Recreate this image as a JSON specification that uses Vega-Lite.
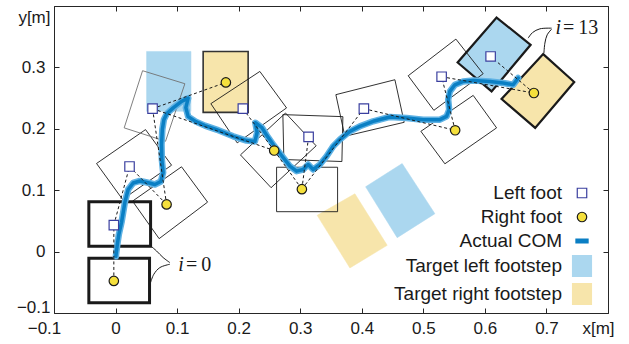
{
  "$schema": "https://vega.github.io/schema/vega-lite/v6.json",
  "width": 554,
  "height": 307,
  "autosize": {"type": "none"},
  "padding": {"left": 54, "top": 6, "right": 21, "bottom": 31},
  "background": "white",
  "config": {
    "view": {"stroke": "#262626", "strokeWidth": 1},
    "font": "Liberation Sans",
    "axis": {"grid": false, "domain": false, "title": null, "tickColor": "#262626", "tickWidth": 1, "tickSize": -5, "labelFont": "Liberation Sans", "labelFontSize": 17, "labelColor": "#1a1a1a"}
  },
  "datasets": {
    "polys": [
      {"id":"L1","g":"init","k":0,"x":-0.0434,"y":0.0812},{"id":"L1","g":"init","k":1,"x":0.0569,"y":0.0812},{"id":"L1","g":"init","k":2,"x":0.0569,"y":0.0086},{"id":"L1","g":"init","k":3,"x":-0.0434,"y":0.0086},
      {"id":"R1","g":"init","k":0,"x":-0.0434,"y":-0.0109},{"id":"R1","g":"init","k":1,"x":0.0552,"y":-0.0109},{"id":"R1","g":"init","k":2,"x":0.0552,"y":-0.0835},{"id":"R1","g":"init","k":3,"x":-0.0434,"y":-0.0835},
      {"id":"L2","g":"step","k":0,"x":-0.0309,"y":0.1435},{"id":"L2","g":"step","k":1,"x":0.0487,"y":0.1987},{"id":"L2","g":"step","k":2,"x":0.0910,"y":0.1407},{"id":"L2","g":"step","k":3,"x":0.0114,"y":0.0850},
      {"id":"R2","g":"step","k":0,"x":0.0276,"y":0.0822},{"id":"R2","g":"step","k":1,"x":0.1072,"y":0.1381},{"id":"R2","g":"step","k":2,"x":0.1495,"y":0.0806},{"id":"R2","g":"step","k":3,"x":0.0708,"y":0.0211},
      {"id":"L3","g":"stepgrey","k":0,"x":0.0439,"y":0.2946},{"id":"L3","g":"stepgrey","k":1,"x":0.1126,"y":0.2734},{"id":"L3","g":"stepgrey","k":2,"x":0.0812,"y":0.1797},{"id":"L3","g":"stepgrey","k":3,"x":0.0140,"y":0.2015},
      {"id":"L4","g":"step","k":0,"x":0.1548,"y":0.2409},{"id":"L4","g":"step","k":1,"x":0.2344,"y":0.2934},{"id":"L4","g":"step","k":2,"x":0.2778,"y":0.2340},{"id":"L4","g":"step","k":3,"x":0.1976,"y":0.1771},
      {"id":"R4","g":"step","k":0,"x":0.2029,"y":0.1575},{"id":"R4","g":"step","k":1,"x":0.2761,"y":0.2257},{"id":"R4","g":"step","k":2,"x":0.3259,"y":0.1723},{"id":"R4","g":"step","k":3,"x":0.2527,"y":0.1041},
      {"id":"L5","g":"step","k":0,"x":0.2718,"y":0.2231},{"id":"L5","g":"step","k":1,"x":0.3693,"y":0.2198},{"id":"L5","g":"step","k":2,"x":0.3677,"y":0.1467},{"id":"L5","g":"step","k":3,"x":0.2734,"y":0.1500},
      {"id":"R5","g":"step","k":0,"x":0.2616,"y":0.1374},{"id":"R5","g":"step","k":1,"x":0.3607,"y":0.1374},{"id":"R5","g":"step","k":2,"x":0.3607,"y":0.0650},{"id":"R5","g":"step","k":3,"x":0.2616,"y":0.0650},
      {"id":"L6","g":"step","k":0,"x":0.3579,"y":0.2556},{"id":"L6","g":"step","k":1,"x":0.4538,"y":0.2799},{"id":"L6","g":"step","k":2,"x":0.4689,"y":0.2106},{"id":"L6","g":"step","k":3,"x":0.3725,"y":0.1878},
      {"id":"R6","g":"step","k":0,"x":0.4960,"y":0.1959},{"id":"R6","g":"step","k":1,"x":0.5810,"y":0.2544},{"id":"R6","g":"step","k":2,"x":0.6190,"y":0.2015},{"id":"R6","g":"step","k":3,"x":0.5350,"y":0.1430},
      {"id":"L7","g":"step","k":0,"x":0.4754,"y":0.2864},{"id":"L7","g":"step","k":1,"x":0.5529,"y":0.3461},{"id":"L7","g":"step","k":2,"x":0.5972,"y":0.2897},{"id":"L7","g":"step","k":3,"x":0.5171,"y":0.2301},
      {"id":"R3","g":"actR","k":0,"x":0.1423,"y":0.3260},{"id":"R3","g":"actR","k":1,"x":0.2154,"y":0.3260},{"id":"R3","g":"actR","k":2,"x":0.2154,"y":0.2268},{"id":"R3","g":"actR","k":3,"x":0.1423,"y":0.2268},
      {"id":"R7","g":"finR","k":0,"x":0.6947,"y":0.3217},{"id":"R7","g":"finR","k":1,"x":0.7451,"y":0.2762},{"id":"R7","g":"finR","k":2,"x":0.6817,"y":0.2015},{"id":"R7","g":"finR","k":3,"x":0.6271,"y":0.2486},
      {"id":"L8","g":"finL","k":0,"x":0.6190,"y":0.3812},{"id":"L8","g":"finL","k":1,"x":0.6743,"y":0.3368},{"id":"L8","g":"finL","k":2,"x":0.6109,"y":0.2609},{"id":"L8","g":"finL","k":3,"x":0.5557,"y":0.3080},
      {"id":"TL3","g":"tgtL","k":0,"x":0.0504,"y":0.3260},{"id":"TL3","g":"tgtL","k":1,"x":0.1225,"y":0.3260},{"id":"TL3","g":"tgtL","k":2,"x":0.1225,"y":0.2284},{"id":"TL3","g":"tgtL","k":3,"x":0.0504,"y":0.2284},
      {"id":"TB","g":"tgtL","k":0,"x":0.4062,"y":0.1056},{"id":"TB","g":"tgtL","k":1,"x":0.4656,"y":0.1435},{"id":"TB","g":"tgtL","k":2,"x":0.5188,"y":0.0617},{"id":"TB","g":"tgtL","k":3,"x":0.4575,"y":0.0227},
      {"id":"TY","g":"tgtR","k":0,"x":0.3275,"y":0.0590},{"id":"TY","g":"tgtR","k":1,"x":0.3888,"y":0.0942},{"id":"TY","g":"tgtR","k":2,"x":0.4413,"y":0.0102},{"id":"TY","g":"tgtR","k":3,"x":0.3807,"y":-0.0266}
    ],
    "com": [
      {"k":0,"x":0.0005,"y":-0.0076},{"k":1,"x":0.0029,"y":0.0119},{"k":2,"x":0.0054,"y":0.0281},{"k":3,"x":0.0097,"y":0.0476},
      {"k":4,"x":0.0151,"y":0.0801},{"k":5,"x":0.0205,"y":0.1012},{"k":6,"x":0.0286,"y":0.1118},{"k":7,"x":0.0395,"y":0.1150},
      {"k":8,"x":0.0530,"y":0.1121},{"k":9,"x":0.0639,"y":0.1093},{"k":10,"x":0.0736,"y":0.1142},{"k":11,"x":0.0773,"y":0.1288},
      {"k":12,"x":0.0752,"y":0.1500},{"k":13,"x":0.0747,"y":0.1743},{"k":14,"x":0.0760,"y":0.1987},{"k":15,"x":0.0785,"y":0.2149},
      {"k":16,"x":0.0833,"y":0.2247},{"k":17,"x":0.0936,"y":0.2340},{"k":18,"x":0.1072,"y":0.2447},{"k":19,"x":0.1180,"y":0.2499},
      {"k":20,"x":0.1142,"y":0.2344},{"k":21,"x":0.1180,"y":0.2198},{"k":22,"x":0.1305,"y":0.2117},{"k":23,"x":0.1451,"y":0.2052},
      {"k":24,"x":0.1641,"y":0.1987},{"k":25,"x":0.1911,"y":0.1878},{"k":26,"x":0.2128,"y":0.1808},{"k":27,"x":0.2263,"y":0.1792},
      {"k":28,"x":0.2300,"y":0.1940},{"k":29,"x":0.2270,"y":0.2100},{"k":30,"x":0.2377,"y":0.2020},{"k":31,"x":0.2458,"y":0.1890},
      {"k":32,"x":0.2572,"y":0.1727},{"k":33,"x":0.2697,"y":0.1565},{"k":34,"x":0.2832,"y":0.1391},{"k":35,"x":0.2941,"y":0.1310},
      {"k":36,"x":0.3048,"y":0.1337},{"k":37,"x":0.3129,"y":0.1418},{"k":38,"x":0.3210,"y":0.1337},{"k":39,"x":0.3319,"y":0.1418},
      {"k":40,"x":0.3428,"y":0.1553},{"k":41,"x":0.3535,"y":0.1716},{"k":42,"x":0.3644,"y":0.1825},{"k":43,"x":0.3807,"y":0.1959},
      {"k":44,"x":0.3969,"y":0.2041},{"k":45,"x":0.4185,"y":0.2122},{"k":46,"x":0.4457,"y":0.2193},{"k":47,"x":0.4728,"y":0.2177},
      {"k":48,"x":0.4998,"y":0.2149},{"k":49,"x":0.5269,"y":0.2149},{"k":50,"x":0.5378,"y":0.2203},{"k":51,"x":0.5420,"y":0.2312},
      {"k":52,"x":0.5404,"y":0.2474},{"k":53,"x":0.5431,"y":0.2609},{"k":54,"x":0.5513,"y":0.2717},{"k":55,"x":0.5647,"y":0.2772},
      {"k":56,"x":0.5810,"y":0.2788},{"k":57,"x":0.6081,"y":0.2772},{"k":58,"x":0.6297,"y":0.2746},{"k":59,"x":0.6460,"y":0.2718},
      {"k":60,"x":0.6541,"y":0.2827}
    ],
    "feet": [
      {"series":"Left foot","x":-0.0028,"y":0.0432},{"series":"Left foot","x":0.0227,"y":0.1386},{"series":"Left foot","x":0.0601,"y":0.2328},{"series":"Left foot","x":0.2068,"y":0.2328},
      {"series":"Left foot","x":0.3136,"y":0.1868},{"series":"Left foot","x":0.4034,"y":0.2328},{"series":"Left foot","x":0.5297,"y":0.2848},{"series":"Left foot","x":0.6093,"y":0.3178},
      {"series":"Right foot","x":-0.0028,"y":-0.0478},{"series":"Right foot","x":0.0829,"y":0.0768},{"series":"Right foot","x":0.1792,"y":0.2755},{"series":"Right foot","x":0.2577,"y":0.1646},
      {"series":"Right foot","x":0.3027,"y":0.1017},{"series":"Right foot","x":0.5517,"y":0.1976},{"series":"Right foot","x":0.6796,"y":0.2583}
    ],
    "links": [
      {"x":-0.0028,"y":-0.0478,"x2":-0.0028,"y2":0.0432},{"x":-0.0028,"y":0.0432,"x2":0.0227,"y2":0.1386},{"x":0.0227,"y":0.1386,"x2":0.0829,"y2":0.0768},
      {"x":0.0829,"y":0.0768,"x2":0.0601,"y2":0.2328},{"x":0.0601,"y":0.2328,"x2":0.1792,"y2":0.2755},{"x":0.0601,"y":0.2328,"x2":0.2577,"y2":0.1646},
      {"x":0.2068,"y":0.2328,"x2":0.2577,"y2":0.1646},{"x":0.2577,"y":0.1646,"x2":0.3027,"y2":0.1017},{"x":0.3027,"y":0.1017,"x2":0.3136,"y2":0.1868},
      {"x":0.3027,"y":0.1017,"x2":0.4034,"y2":0.2328},{"x":0.4034,"y":0.2328,"x2":0.5517,"y2":0.1976},{"x":0.5517,"y":0.1976,"x2":0.5297,"y2":0.2848},
      {"x":0.5297,"y":0.2848,"x2":0.6796,"y2":0.2583},{"x":0.6796,"y":0.2583,"x2":0.6093,"y2":0.3178}
    ],
    "leaders": [
      {"id":"a0","k":0,"x":0.0882,"y":-0.0179},{"id":"a0","k":1,"x":0.0773,"y":-0.0097},{"id":"a0","k":2,"x":0.0666,"y":0.0010},{"id":"a0","k":3,"x":0.0585,"y":0.0081},
      {"id":"b0","k":0,"x":0.0882,"y":-0.0206},{"id":"b0","k":1,"x":0.0720,"y":-0.0260},{"id":"b0","k":2,"x":0.0622,"y":-0.0369},{"id":"b0","k":3,"x":0.0569,"y":-0.0504},
      {"id":"a13","k":0,"x":0.7084,"y":0.3639},{"id":"a13","k":1,"x":0.6894,"y":0.3628},{"id":"a13","k":2,"x":0.6775,"y":0.3568},{"id":"a13","k":3,"x":0.6703,"y":0.3477},
      {"id":"b13","k":0,"x":0.7084,"y":0.3623},{"id":"b13","k":1,"x":0.7012,"y":0.3531},{"id":"b13","k":2,"x":0.6975,"y":0.3396},{"id":"b13","k":3,"x":0.6959,"y":0.3233}
    ],
    "ann": [
      {"x":0.1110,"y":-0.0315,"t":"=\u20090"},
      {"x":0.7236,"y":0.3542,"t":"=\u200913"}
    ]
  },
  "encoding": {
    "x": {"field":"x","type":"quantitative","scale":{"domain":[-0.1,0.8],"nice":false,"zero":false},"axis":null},
    "y": {"field":"y","type":"quantitative","scale":{"domain":[-0.1,0.4],"nice":false,"zero":false},"axis":null}
  },
  "resolve": {"axis": {"x":"independent","y":"independent"}},
  "layer": [
    {
      "data": {"name":"polys"},
      "transform": [{"filter":"datum.g == 'tgtL'"}],
      "mark": {"type":"line","interpolate":"linear-closed","fill":"#abd7ef","stroke":"#abd7ef","strokeWidth":0.5},
      "encoding": {
        "x": {"field":"x","type":"quantitative","scale":{"domain":[-0.1,0.8],"nice":false,"zero":false},
          "axis":{"orient":"bottom","values":[-0.1,0,0.1,0.2,0.3,0.4,0.5,0.6,0.7,0.8],"labelFlush":false,
            "labelExpr":"datum.value > 0.75 ? 'x[m]' : (abs(datum.value) < 0.001 ? '0' : format(datum.value, '.1f'))",
            "labelPadding":12,
            "labelOffset":{"condition":{"test":"datum.value < -0.05 || datum.value > 0.75","value":-10},"value":0}}},
        "y": {"field":"y","type":"quantitative","scale":{"domain":[-0.1,0.4],"nice":false,"zero":false},
          "axis":{"orient":"left","values":[-0.1,0,0.1,0.2,0.3,0.4],
            "labelExpr":"datum.value > 0.35 ? 'y[m]' : (abs(datum.value) < 0.001 ? '0' : format(datum.value, '.1f'))",
            "labelPadding":{"condition":{"test":"datum.value < -0.05 || datum.value > 0.35","value":9},"value":14},
            "labelOffset":{"condition":[{"test":"datum.value < -0.05","value":-6},{"test":"datum.value > 0.35","value":11}],"value":0}}},
        "detail": {"field":"id"},
        "order": {"field":"k","type":"quantitative"}
      }
    },
    {
      "data": {"name":"polys"},
      "transform": [{"filter":"datum.g == 'tgtR'"}],
      "mark": {"type":"line","interpolate":"linear-closed","fill":"#f7e5ab","stroke":"#f7e5ab","strokeWidth":0.5},
      "encoding": {"detail": {"field":"id"},"order": {"field":"k","type":"quantitative"}}
    },
    {
      "data": {"name":"polys"},
      "transform": [{"filter":"datum.g == 'actR'"}],
      "mark": {"type":"line","interpolate":"linear-closed","fill":"#f7e5ab","stroke":"#333333","strokeWidth":1.6},
      "encoding": {"detail": {"field":"id"},"order": {"field":"k","type":"quantitative"}}
    },
    {
      "data": {"name":"polys"},
      "transform": [{"filter":"datum.g == 'finL'"}],
      "mark": {"type":"line","interpolate":"linear-closed","fill":"#abd7ef","stroke":"#1a1a1a","strokeWidth":2.2},
      "encoding": {"detail": {"field":"id"},"order": {"field":"k","type":"quantitative"}}
    },
    {
      "data": {"name":"polys"},
      "transform": [{"filter":"datum.g == 'finR'"}],
      "mark": {"type":"line","interpolate":"linear-closed","fill":"#f7e5ab","stroke":"#1a1a1a","strokeWidth":2.2},
      "encoding": {"detail": {"field":"id"},"order": {"field":"k","type":"quantitative"}}
    },
    {
      "data": {"name":"polys"},
      "transform": [{"filter":"datum.g == 'step'"}],
      "mark": {"type":"line","interpolate":"linear-closed","stroke":"#1a1a1a","strokeWidth":0.9},
      "encoding": {"detail": {"field":"id"},"order": {"field":"k","type":"quantitative"}}
    },
    {
      "data": {"name":"polys"},
      "transform": [{"filter":"datum.g == 'stepgrey'"}],
      "mark": {"type":"line","interpolate":"linear-closed","stroke":"#707070","strokeWidth":0.9},
      "encoding": {"detail": {"field":"id"},"order": {"field":"k","type":"quantitative"}}
    },
    {
      "data": {"name":"polys"},
      "transform": [{"filter":"datum.g == 'init'"}],
      "mark": {"type":"line","interpolate":"linear-closed","stroke":"#1a1a1a","strokeWidth":3},
      "encoding": {"detail": {"field":"id"},"order": {"field":"k","type":"quantitative"}}
    },
    {
      "data": {"name":"com"},
      "mark": {"type":"line","stroke":"#5fb2e4","strokeWidth":6.5,"strokeCap":"round","strokeJoin":"round"},
      "encoding": {
        "x": {"field":"x","type":"quantitative","scale":{"domain":[-0.1,0.8],"nice":false,"zero":false},
          "axis":{"orient":"top","values":[-0.1,0,0.1,0.2,0.3,0.4,0.5,0.6,0.7,0.8],"labels":false}},
        "y": {"field":"y","type":"quantitative","scale":{"domain":[-0.1,0.4],"nice":false,"zero":false},
          "axis":{"orient":"right","values":[-0.1,0,0.1,0.2,0.3,0.4],"labels":false}},
        "order": {"field":"k","type":"quantitative"}
      }
    },
    {
      "data": {"name":"com"},
      "mark": {"type":"line","stroke":"#0a7fc4","strokeWidth":3.5,"strokeCap":"round","strokeJoin":"round"},
      "encoding": {"order": {"field":"k","type":"quantitative"}}
    },
    {
      "data": {"name":"links"},
      "mark": {"type":"rule","stroke":"#1a1a1a","strokeWidth":1,"strokeDash":[3,2.5]},
      "encoding": {"x2": {"field":"x2"},"y2": {"field":"y2"}}
    },
    {
      "data": {"name":"leaders"},
      "mark": {"type":"line","interpolate":"catmull-rom","stroke":"#1a1a1a","strokeWidth":1},
      "encoding": {"detail": {"field":"id"},"order": {"field":"k","type":"quantitative"}}
    },
    {
      "data": {"name":"feet"},
      "mark": {"type":"point","size":484,"opacity":1,"strokeWidth":1.2},
      "encoding": {
        "fill": {"field":"series","type":"nominal",
          "scale":{"domain":["Left foot","Right foot","Actual COM","Target left footstep","Target right footstep"],"range":["#ffffff","#f5e03c","#0a7fc4","#abd7ef","#f7e5ab"]},
          "legend":{"orient":"none","legendX":516,"legendY":175,"title":null,"labelAlign":"right","labelOffset":-32,"labelFontSize":19,"labelFont":"Liberation Sans","labelColor":"#1a1a1a","symbolSize":484,"symbolStrokeWidth":1.2,"rowPadding":2,"padding":0,"labelLimit":0}},
        "stroke": {"field":"series","type":"nominal",
          "scale":{"domain":["Left foot","Right foot","Actual COM","Target left footstep","Target right footstep"],"range":["#3a3f9f","#1a1a1a","#0a7fc4","#abd7ef","#f7e5ab"]},
          "legend":{"orient":"none","legendX":516,"legendY":175,"title":null,"labelAlign":"right","labelOffset":-32,"labelFontSize":19,"labelFont":"Liberation Sans","labelColor":"#1a1a1a","symbolSize":484,"symbolStrokeWidth":1.2,"rowPadding":2,"padding":0,"labelLimit":0}},
        "shape": {"field":"series","type":"nominal",
          "scale":{"domain":["Left foot","Right foot","Actual COM","Target left footstep","Target right footstep"],"range":["M-0.43,-0.43L0.43,-0.43L0.43,0.43L-0.43,0.43Z","M0.43,0A0.43,0.43,0,1,1,-0.43,0A0.43,0.43,0,1,1,0.43,0Z","M-0.55,-0.18L0.55,-0.18L0.55,0.18L-0.55,0.18Z","M-0.86,-0.95L0.86,-0.95L0.86,0.95L-0.86,0.95Z","M-0.86,-0.95L0.86,-0.95L0.86,0.95L-0.86,0.95Z"]},
          "legend":{"orient":"none","legendX":516,"legendY":175,"title":null,"labelAlign":"right","labelOffset":-32,"labelFontSize":19,"labelFont":"Liberation Sans","labelColor":"#1a1a1a","symbolSize":484,"symbolStrokeWidth":1.2,"rowPadding":2,"padding":0,"labelLimit":0}}
      }
    },
    {
      "data": {"name":"ann"},
      "mark": {"type":"text","text":"i","align":"right","baseline":"alphabetic","font":"Liberation Serif","fontStyle":"italic","fontSize":20,"fill":"#1a1a1a"},
      "encoding": {}
    },
    {
      "data": {"name":"ann"},
      "mark": {"type":"text","align":"left","baseline":"alphabetic","dx":2,"font":"Liberation Serif","fontSize":20,"fill":"#1a1a1a"},
      "encoding": {"text": {"field":"t"}}
    }
  ]
}
